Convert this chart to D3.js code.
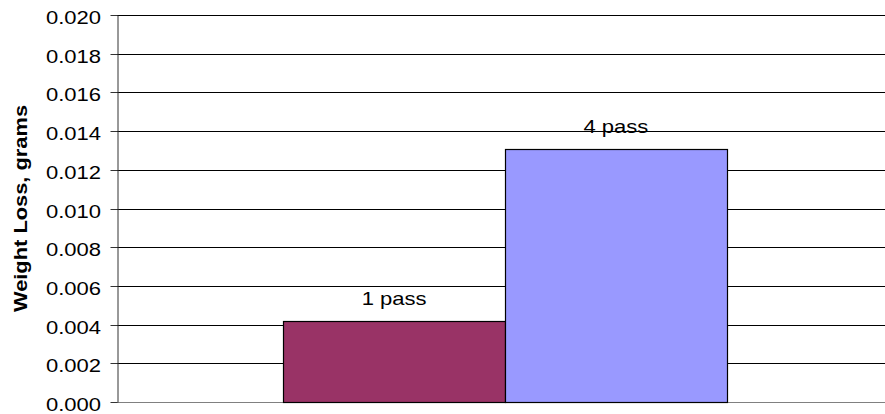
<!DOCTYPE html>
<html>
<head>
<meta charset="utf-8">
<script src="https://cdn.jsdelivr.net/npm/d3@7"></script>
<style>
  html, body { margin: 0; padding: 0; background: #fff; }
  svg { display: block; font-family: "Liberation Sans", Arial, sans-serif; }
</style>
</head>
<body>
<svg id="chart" width="885" height="414"></svg>
<script>
// Weight loss per number of passes
const categories = ["Weight Loss"];
const seriesNames = ["1 pass", "4 pass"];
const seriesValues = [0.0042, 0.0131];
const seriesColors = ["#993366", "#9999FF"];
const yTicks = [0, 0.002, 0.004, 0.006, 0.008, 0.010, 0.012, 0.014, 0.016, 0.018, 0.020];

const svg = d3.select("#chart");
const margin = { left: 117, top: 15, right: -8, bottom: 12 };
const W = 885, H = 414;
const x0 = margin.left, x1 = W - margin.right;
const y0 = H - margin.bottom, y1 = margin.top;

// text is drawn slightly wide, like the original chart lettering
const FS = 18.5, WIDE = 1.19;

const y = d3.scaleLinear().domain([0, 0.020]).range([y0, y1]);

// category band, then series inside each category (gap width 150%)
const xCat = d3.scaleBand().domain(categories).range([x0, x1]).paddingInner(0).paddingOuter(0);
const xSer = d3.scaleBand().domain(seriesNames)
  .range([0, xCat.bandwidth()])
  .paddingInner(0)
  .paddingOuter(0.75);

const py = v => Math.round(y(v)) + 0.5;

// gridlines
svg.append("g")
  .selectAll("line")
  .data(yTicks.filter(d => d > 0))
  .join("line")
  .attr("x1", x0).attr("x2", W)
  .attr("y1", py).attr("y2", py)
  .attr("stroke", "#000")
  .attr("stroke-width", 1);

// bottom axis line
svg.append("line")
  .attr("x1", x0).attr("x2", W)
  .attr("y1", py(0)).attr("y2", py(0))
  .attr("stroke", "#808080");

// y axis
const yAxis = d3.axisLeft(y)
  .tickValues(yTicks)
  .tickFormat(d3.format(".3f"))
  .tickSizeInner(7)
  .tickSizeOuter(0);

const gy = svg.append("g")
  .attr("transform", `translate(${x0 + 0.5},0)`)
  .call(yAxis);
gy.select(".domain").attr("stroke", "#333");
gy.selectAll(".tick").attr("transform", d => `translate(0,${py(d)})`);
gy.selectAll(".tick line").attr("stroke", "#333");
gy.selectAll(".tick text")
  .attr("x", 0)
  .attr("dy", null)
  .attr("y", 0)
  .attr("transform", `translate(-16.5,8.3) scale(${WIDE},1)`)
  .attr("font-family", "Liberation Sans, Arial, sans-serif")
  .attr("font-size", FS)
  .attr("fill", "#000");

// bars
svg.append("g")
  .selectAll("rect")
  .data(seriesNames.map((s, i) => ({ name: s, value: seriesValues[i], color: seriesColors[i] })))
  .join("rect")
  .attr("x", d => Math.round(xCat(categories[0]) + xSer(d.name)) + 0.5)
  .attr("width", () => Math.round(xSer.bandwidth()))
  .attr("y", d => py(d.value))
  .attr("height", d => Math.round(y(0)) - Math.round(y(d.value)))
  .attr("fill", d => d.color)
  .attr("stroke", "#000")
  .attr("stroke-width", 1.2);

// bar labels
svg.append("g")
  .selectAll("text")
  .data(seriesNames.map((s, i) => ({ name: s, value: seriesValues[i] })))
  .join("text")
  .attr("transform", d =>
    `translate(${xCat(categories[0]) + xSer(d.name) + xSer.bandwidth() / 2},${y(d.value) - 15.5}) scale(${WIDE},1)`)
  .attr("text-anchor", "middle")
  .attr("font-size", FS)
  .attr("fill", "#000")
  .text(d => d.name);

// y axis title
svg.append("text")
  .attr("transform", `translate(26.5,${(y0 + y1) / 2}) rotate(-90) scale(1.15,1)`)
  .attr("text-anchor", "middle")
  .attr("font-size", 19)
  .attr("font-weight", "bold")
  .attr("fill", "#000")
  .text("Weight Loss, grams");
</script>
</body>
</html>
